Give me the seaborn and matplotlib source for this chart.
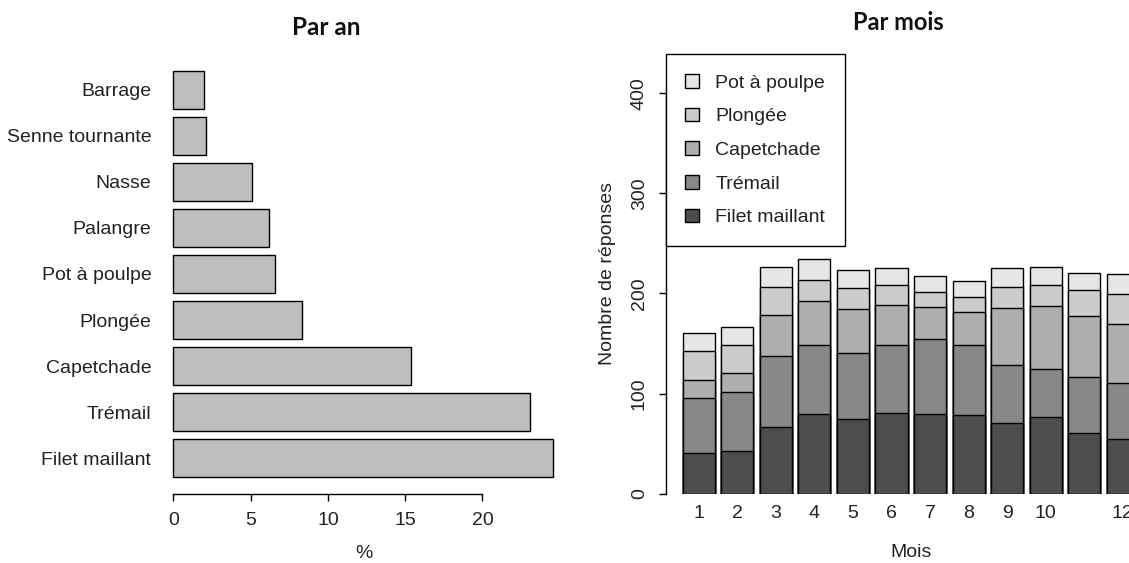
import matplotlib
matplotlib.use("Agg")
import matplotlib.pyplot as plt
import seaborn as sns
import pandas as pd

# Par an : share of answers per fishing gear (%)
gears = ['Barrage', 'Senne tournante', 'Nasse', 'Palangre', 'Pot à poulpe',
         'Plongée', 'Capetchade', 'Trémail', 'Filet maillant']
pct = [2.0, 2.1, 5.1, 6.2, 6.6, 8.3, 15.4, 23.1, 24.6]

# Par mois : number of answers per month, by gear
months = [1, 2, 3, 4, 5, 6, 7, 8, 9, 10, 11, 12]
month_labels = ['1', '2', '3', '4', '5', '6', '7', '8', '9', '10', '', '12']
filet = [41, 43, 67, 80, 75, 81, 80, 79, 71, 77, 61, 55]
tremail = [55, 59, 71, 69, 66, 68, 75, 70, 58, 48, 56, 56]
capetchade = [18, 19, 41, 43, 43, 39, 31, 33, 56, 62, 61, 59]
plongee = [29, 28, 27, 21, 21, 20, 15, 14, 21, 21, 25, 29]
pot = [18, 18, 20, 21, 18, 17, 16, 16, 19, 18, 17, 20]

series_names = ['Filet maillant', 'Trémail', 'Capetchade', 'Plongée', 'Pot à poulpe']
series_colors = ['#4d4d4d', '#888888', '#aeaeae', '#cccccc', '#e6e6e6']

sns.set_theme(style='white')
plt.rcParams['font.family'] = ['Liberation Sans', 'DejaVu Sans']

fig = plt.figure(figsize=(11.29, 5.63), dpi=100)
ax1 = fig.add_axes([0.1402, 0.1233, 0.3637, 0.7801])
ax2 = fig.add_axes([0.5899, 0.1233, 0.435, 0.7801])

# left panel: horizontal bars
sns.barplot(x=pct, y=gears, orient='h', color='#bebebe', edgecolor='black',
            linewidth=1, width=0.833, saturation=1, errorbar=None, ax=ax1)
ax1.set_xlim(-0.98, 25.6)
ax1.set_ylim(8.77, -0.77)
for s in ['top', 'right', 'left']:
    ax1.spines[s].set_visible(False)
ax1.spines['bottom'].set_bounds(0, 20)
ax1.spines['bottom'].set_color('black')
ax1.spines['bottom'].set_linewidth(1)
ax1.set_xticks([0, 5, 10, 15, 20])
ax1.tick_params(axis='x', length=5, width=1, color='black', direction='out',
                bottom=True, labelsize=14, pad=8, labelcolor='#222222')
ax1.tick_params(axis='y', length=0, labelsize=14, pad=5, labelcolor='#222222')
ax1.set_xlabel('%', fontsize=14, labelpad=12, color='#222222')
ax1.set_ylabel('')

# right panel: stacked bars (cumulative totals drawn from top to bottom)
df = pd.DataFrame({'Mois': months, 'Filet maillant': filet, 'Trémail': tremail,
                   'Capetchade': capetchade, 'Plongée': plongee, 'Pot à poulpe': pot})
cum = df[series_names].cumsum(axis=1)
for name, col in reversed(list(zip(series_names, series_colors))):
    sns.barplot(x=df['Mois'], y=cum[name], color=col, edgecolor='black',
                linewidth=1, width=0.833, saturation=1, errorbar=None,
                label=name, ax=ax2)
ax2.set_xlim(-0.85, 11.89)
ax2.set_ylim(0, 439)
for s in ['top', 'right', 'bottom']:
    ax2.spines[s].set_visible(False)
ax2.spines['left'].set_bounds(0, 400)
ax2.spines['left'].set_color('black')
ax2.spines['left'].set_linewidth(1)
ax2.set_yticks([0, 100, 200, 300, 400])
ax2.set_xticks(range(len(months)))
ax2.set_xticklabels(month_labels)
ax2.tick_params(axis='y', length=5, width=1, color='black', direction='out',
                left=True, labelsize=14, pad=8, labelrotation=90, labelcolor='#222222')
for lab in ax2.get_yticklabels():
    lab.set_va('center')
ax2.tick_params(axis='x', length=0, labelsize=14, pad=8, labelcolor='#222222')
ax2.set_xlabel('Mois', fontsize=14, labelpad=16, color='#222222')
ax2.set_ylabel('Nombre de réponses', fontsize=14, labelpad=11, color='#222222')

leg = ax2.legend(loc='upper left', bbox_to_anchor=(0, 1), borderaxespad=0,
                 frameon=True, fancybox=False, edgecolor='black', framealpha=1,
                 fontsize=14, handlelength=0.72, handleheight=0.72,
                 handletextpad=0.81, labelspacing=0.82, borderpad=1.0)
leg.get_frame().set_linewidth(1)
for t in leg.get_texts():
    t.set_color('#222222')

# panel titles
fig.text(326 / 1129, 1 - 35 / 563, 'Par an', ha='center', va='baseline',
         fontfamily='Lato', fontweight='bold', fontsize=17.5, color='#111111')
fig.text(898 / 1129, 1 - 30 / 563, 'Par mois', ha='center', va='baseline',
         fontfamily='Lato', fontweight='bold', fontsize=17, color='#111111')

fig.savefig('out.png', dpi=100)
